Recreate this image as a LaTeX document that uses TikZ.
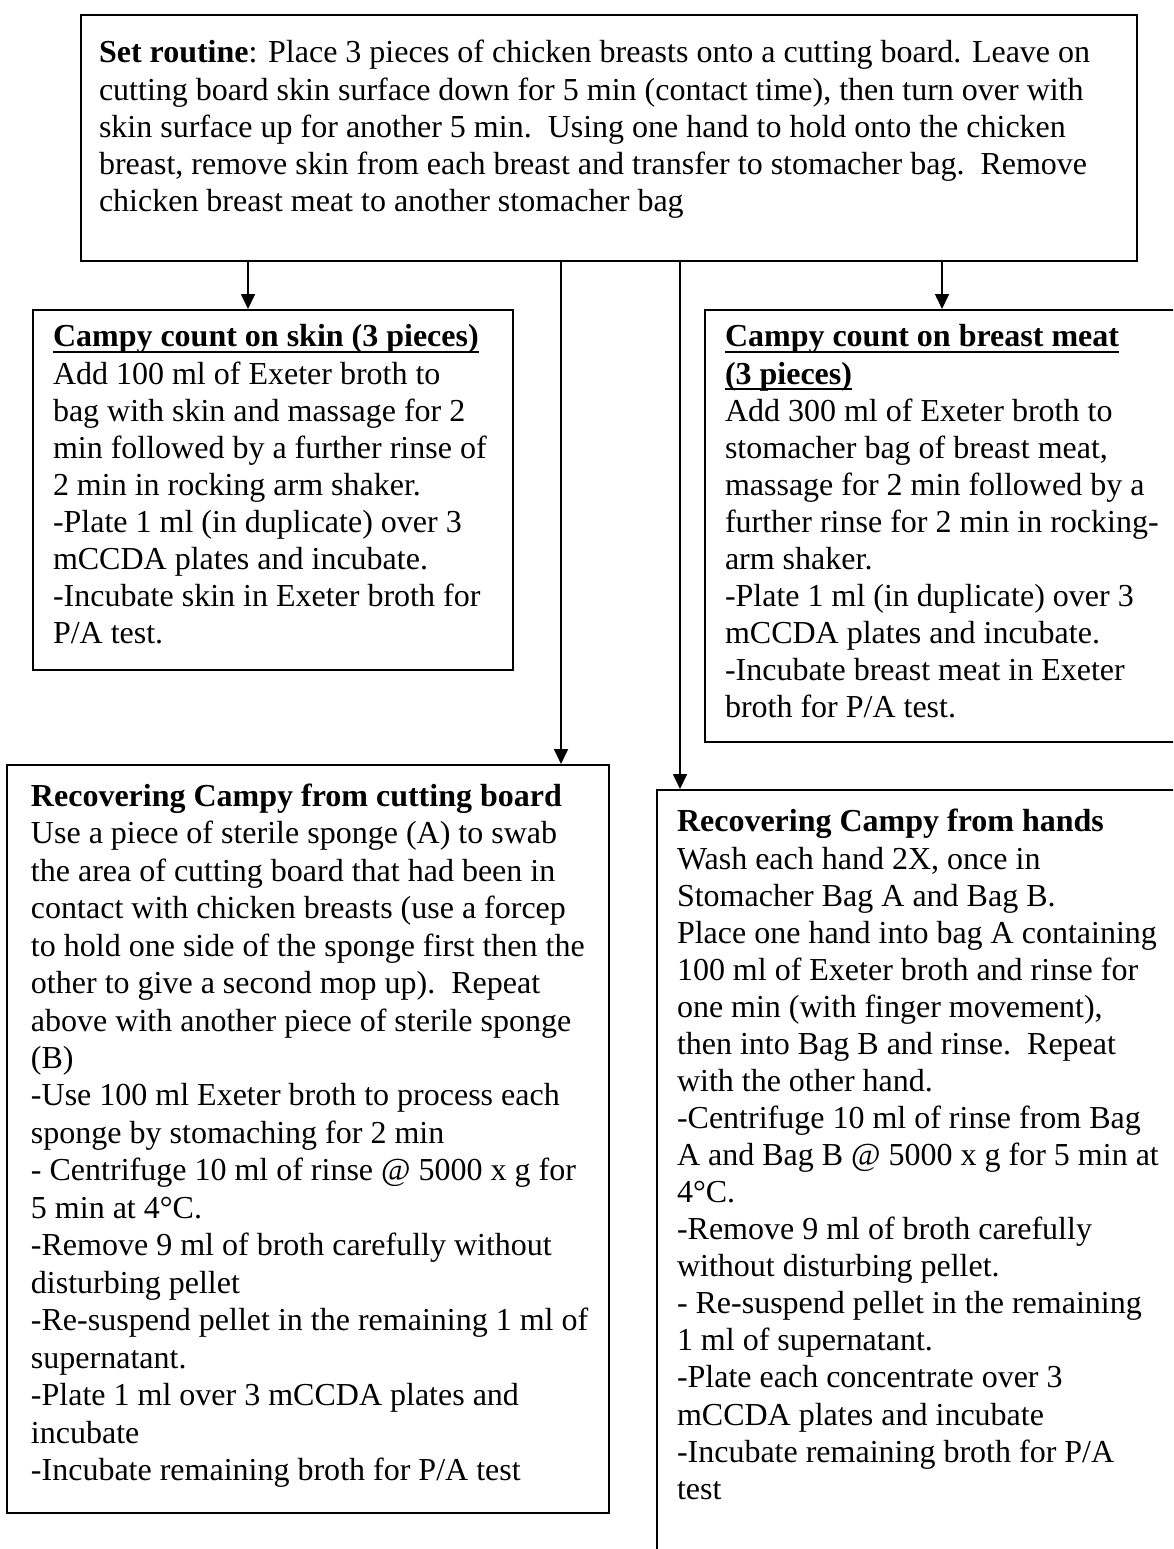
\documentclass[tikz,border=0pt]{standalone}
\usepackage{fontspec}
\setmainfont{Liberation Serif}
\usetikzlibrary{positioning,arrows.meta}
\newdimen\px \px=0.375pt
\definecolor{ink}{HTML}{000000}
% width, height, left pad, top pad, text
\newcommand{\panel}[5]{\parbox[t][#2\px][t]{#1\px}{\raggedright\leftskip=#3\px\relax
  \vspace*{#4\px}\strut#5}}
\newcommand{\uln}[1]{\setbox0=\hbox{#1}\leavevmode\rlap{\rule[-2.4pt]{\wd0}{0.9pt}}\box0}
\tikzset{
  % --- nodes
  stage/.style = {draw=ink, line width=0.75pt, inner sep=0pt, anchor=north west,
                  font=\fontsize{12pt}{13.9pt}\selectfont},
  widestage/.style = {stage, font=\fontsize{12pt}{14.05pt}\selectfont},
  % --- edges
  e/.style     = {-{Triangle[length=5.6pt,width=5.2pt]}, line width=0.75pt, draw=ink},
}
\begin{document}
\begin{tikzpicture}[x=\px, y=-\px]
  \useasboundingbox (0,0) rectangle (1173,1549);
  \clip (0,0) rectangle (1173,1549);
  \node[stage] (top) at (80,14) {\panel{1056}{246}{18}{22}{%
    \textbf{Set routine}: Place 3 pieces of chicken breasts onto a cutting board. Leave on\\
    cutting board skin surface down for 5 min (contact time), then turn over with\\
    skin surface up for another 5 min.\ \ Using one hand to hold onto the chicken\\
    breast, remove skin from each breast and transfer to stomacher bag.\ \ Remove\\
    chicken breast meat to another stomacher bag}};
  \node[stage] (skin) at (32,309) {\panel{480}{360}{20}{11}{%
    \uln{\textbf{Campy count on skin (3 pieces)}}\\
    Add 100 ml of Exeter broth to\\
    bag with skin and massage for 2\\
    min followed by a further rinse of\\
    2 min in rocking arm shaker.\\
    -Plate 1 ml (in duplicate) over 3\\
    mCCDA plates and incubate.\\
    -Incubate skin in Exeter broth for\\
    P/A test.}};
  \node[stage] (meat) at (704,309) {\panel{490}{432}{20}{11}{%
    \uln{\textbf{Campy count on breast meat}}\\
    \uln{\textbf{(3 pieces)}}\\
    Add 300 ml of Exeter broth to\\
    stomacher bag of breast meat,\\
    massage for 2 min followed by a\\
    further rinse for 2 min in rocking-\\
    arm shaker.\\
    -Plate 1 ml (in duplicate) over 3\\
    mCCDA plates and incubate.\\
    -Incubate breast meat in Exeter\\
    broth for P/A test.}};
  \node[widestage] (board) at (6,764) {\panel{602}{748}{24}{15}{%
    \textbf{Recovering Campy from cutting board}\\
    Use a piece of sterile sponge (A) to swab\\
    the area of cutting board that had been in\\
    contact with chicken breasts (use a forcep\\
    to hold one side of the sponge first then the\\
    other to give a second mop up).\ \ Repeat\\
    above with another piece of sterile sponge\\
    (B)\\
    -Use 100 ml Exeter broth to process each\\
    sponge by stomaching for 2 min\\
    - Centrifuge 10 ml of rinse @ 5000 x g for\\
    5 min at 4°C.\\
    -Remove 9 ml of broth carefully without\\
    disturbing pellet\\
    -Re-suspend pellet in the remaining 1 ml of\\
    supernatant.\\
    -Plate 1 ml over 3 mCCDA plates and\\
    incubate\\
    -Incubate remaining broth for P/A test}};
  \node[stage] (hands) at (656,789) {\panel{540}{820}{20}{16}{%
    \textbf{Recovering Campy from hands}\\
    Wash each hand 2X, once in\\
    Stomacher Bag A and Bag B.\\
    Place one hand into bag A containing\\
    100 ml of Exeter broth and rinse for\\
    one min (with finger movement),\\
    then into Bag B and rinse.\ \ Repeat\\
    with the other hand.\\
    -Centrifuge 10 ml of rinse from Bag\\
    A and Bag B @ 5000 x g for 5 min at\\
    4°C.\\
    -Remove 9 ml of broth carefully\\
    without disturbing pellet.\\
    - Re-suspend pellet in the remaining\\
    1 ml of supernatant.\\
    -Plate each concentrate over 3\\
    mCCDA plates and incubate\\
    -Incubate remaining broth for P/A\\
    test}};
  % arrow columns
  \coordinate (cSkin)  at (248,0);
  \coordinate (cBoard) at (561,0);
  \coordinate (cHands) at (680,0);
  \coordinate (cMeat)  at (942,0);
  \draw[e] (top.south -| cSkin)  -- (skin.north -| cSkin);
  \draw[e] (top.south -| cBoard) -- (board.north -| cBoard);
  \draw[e] (top.south -| cHands) -- (hands.north -| cHands);
  \draw[e] (top.south -| cMeat)  -- (meat.north -| cMeat);
\end{tikzpicture}
\end{document}
